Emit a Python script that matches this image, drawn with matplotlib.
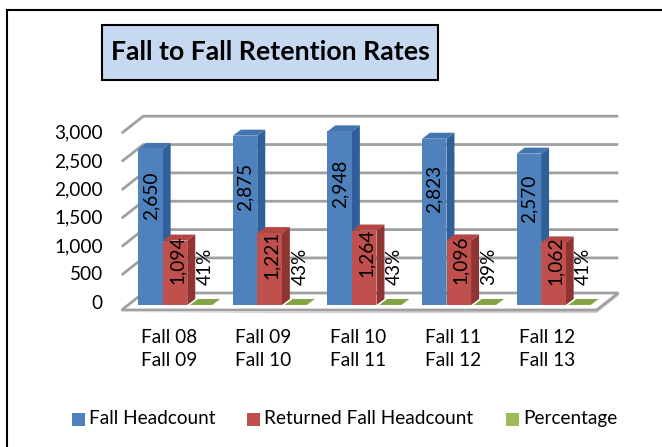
import matplotlib
matplotlib.use("Agg")
import matplotlib.pyplot as plt
from matplotlib.patches import Polygon, Rectangle

# data
categories = ["Fall 08\nFall 09", "Fall 09\nFall 10", "Fall 10\nFall 11",
              "Fall 11\nFall 12", "Fall 12\nFall 13"]
fall_headcount = [2650, 2875, 2948, 2823, 2570]
returned_headcount = [1094, 1221, 1264, 1096, 1062]
percentage = [41, 43, 43, 39, 41]
y_ticks = [0, 500, 1000, 1500, 2000, 2500, 3000]

plt.rcParams['font.family'] = ['Lato', 'DejaVu Sans']
FS = 13.7

# pixel layout of the fake 3d chart
W, H = 662, 447
PX_X = 94.6      # px per category
PX_Y = 0.0589    # px per headcount unit
X0, Y0 = 169, 305

fig = plt.figure(figsize=(W / 100, H / 100), dpi=100)
ax = fig.add_axes([0, 0, 1, 1])
ax.set_xlim(-X0 / PX_X, (W - X0) / PX_X)
ax.set_ylim(-(H - Y0) / PX_Y, Y0 / PX_Y)
ax.axis('off')

def px(dx, dy):
    # pixel offsets -> data offsets
    return dx / PX_X, dy / PX_Y

bdx, bdy = px(8, 6)        # bar depth
wdx, wdy = px(21.6, 17)    # wall depth
grid_col = '#A0A0A0'

# floor slab
fl_l, fl_r = (121.7 - X0) / PX_X, (596.7 - X0) / PX_X
fl_y = -5 / PX_Y
th = 3 / PX_Y
ax.add_patch(Polygon([(fl_l, fl_y - th), (fl_r, fl_y - th), (fl_r + wdx, fl_y + wdy - th),
                      (fl_r + wdx, fl_y + wdy), (fl_r, fl_y)],
                     closed=True, fc='#D0D0D0', ec='none', zorder=1))
ax.add_patch(Polygon([(fl_l, fl_y), (fl_r, fl_y), (fl_r + wdx, fl_y + wdy), (fl_l + wdx, fl_y + wdy)],
                     closed=True, fc='white', ec=grid_col, lw=2, zorder=2))

# gridlines on the back wall, with the left wall diagonals
for v in y_ticks:
    yv = 29 + 0.9626 * v
    if v > 0:
        ax.plot([fl_l, fl_l + wdx, fl_r + wdx], [yv, yv + wdy, yv + wdy],
                color=grid_col, lw=2, zorder=1, solid_capstyle='butt')
    ax.text(fl_l - 0.2, yv, f"{v:,}", ha='right', va='center', fontsize=FS)

def bar3d(x, w, v, front, side, top):
    ax.add_patch(Polygon([(x + w, 0), (x + w + bdx, bdy), (x + w + bdx, v + bdy), (x + w, v)],
                         closed=True, fc=side, ec='none', zorder=3))
    ax.add_patch(Polygon([(x, v), (x + bdx, v + bdy), (x + w + bdx, v + bdy), (x + w, v)],
                         closed=True, fc=top, ec='none', zorder=3))
    ax.bar(x, v, width=w, align='edge', color=front, zorder=3)

bw = 0.258
for i in range(len(categories)):
    bar3d(i - 0.325, bw, fall_headcount[i], '#4F81BD', '#30609A', '#4474AE')
    bar3d(i - 0.065, bw, returned_headcount[i], '#C0504D', '#8E3432', '#B44644')
    bar3d(i + 0.222, 0.235, percentage[i] / 100, '#9BBB59', '#76923C', '#84A444')

    ax.text(i - 0.325 + bw / 2, 0.7 * fall_headcount[i], f"{fall_headcount[i]:,}",
            rotation=90, ha='center', va='center', fontsize=FS, zorder=5)
    ax.text(i - 0.065 + bw / 2 + 0.02, max(0.7 * returned_headcount[i], 650), f"{returned_headcount[i]:,}",
            rotation=90, ha='center', va='center', fontsize=FS, zorder=5)
    ax.text(i + 0.222 + 0.16, 650, f"{percentage[i]}%",
            rotation=90, ha='center', va='center', fontsize=FS, zorder=5)

    ax.text(i, -747, categories[i], ha='center', va='center', fontsize=FS, linespacing=1.36)

# outer frame
fig.add_artist(Rectangle((7.3 / W, -0.05), 1.1, 1 - 10 / H + 0.05, transform=fig.transFigure,
                         fill=False, ec='black', lw=1.5))

# title box
fig.add_artist(Rectangle((101.7 / W, 1 - 80 / H), 336 / W, 55 / H, transform=fig.transFigure,
                         fc='#C6D9F1', ec='black', lw=1.5))
fig.text(270 / W, 1 - 52.5 / H, "Fall to Fall Retention Rates", ha='center', va='center',
         fontsize=19.2, fontweight='bold')

# legend
legend_items = [("Fall Headcount", '#4F81BD', 71.7),
                ("Returned Fall Headcount", '#C0504D', 246.5),
                ("Percentage", '#9BBB59', 506)]
for name, col, lx in legend_items:
    fig.add_artist(Rectangle((lx / W, 1 - 425.7 / H), 13 / W, 13 / H, transform=fig.transFigure,
                             fc=col, ec='none'))
    fig.text((lx + 17.5) / W, 1 - 418.5 / H, name, ha='left', va='center', fontsize=FS)

fig.savefig("out.png", dpi=100)
